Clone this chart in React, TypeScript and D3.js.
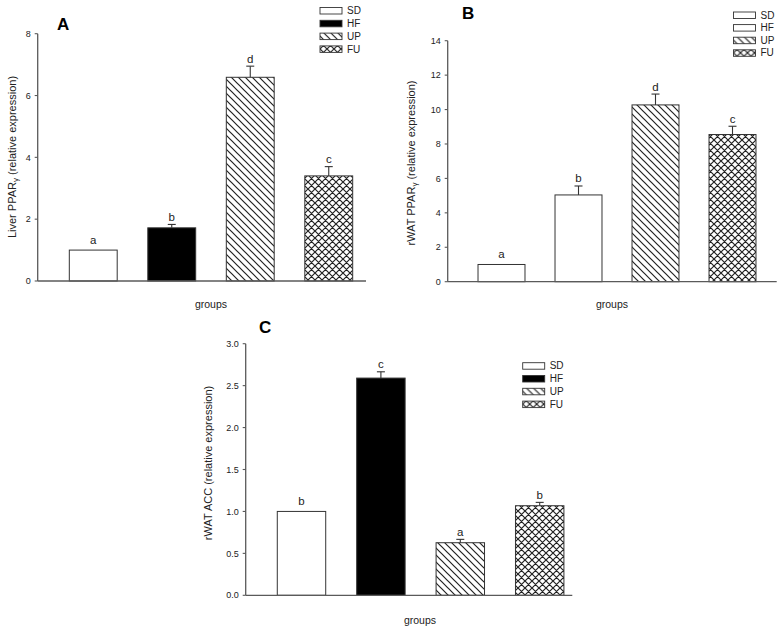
import * as d3 from "d3"

const groups = ["SD", "HF", "UP", "FU"]

const liverPPARg = [1.0, 1.72, 6.59, 3.4]
const liverPPARgErr = [0, 0.11, 0.36, 0.3]
const liverLetters = ["a", "b", "d", "c"]

const rwatPPARg = [1.0, 5.04, 10.27, 8.55]
const rwatPPARgErr = [0, 0.52, 0.63, 0.48]
const rwatPPARgLetters = ["a", "b", "d", "c"]

const rwatACC = [1.0, 2.59, 0.627, 1.068]
const rwatACCErr = [0, 0.075, 0.04, 0.04]
const rwatACCLetters = ["b", "c", "a", "b"]

const ticksA = [0, 2, 4, 6, 8]
const ticksB = [0, 2, 4, 6, 8, 10, 12, 14]
const ticksC = [0, 0.5, 1.0, 1.5, 2.0, 2.5, 3.0]

const fillsBlackHF = ["#fff", "#000", "url(#diag)", "url(#cross)"]
const fillsWhiteHF = ["#fff", "#fff", "url(#diag)", "url(#cross)"]

const FONT = "Arial, 'Liberation Sans', sans-serif"
const AXIS = "#5a5a5a"
const TEXT = "#222"

interface PanelProps {
  label: string
  labelPos: [number, number]
  values: number[]
  errors: number[]
  letters: string[]
  fills: string[]
  ticks: number[]
  tickFmt: (v: number) => string
  yDomain: [number, number]
  yRange: [number, number]
  axisX: number
  axisEnd: number
  bandRange: [number, number]
  yTitle: string
  yTitleSub?: string
  yTitleRest?: string
  yTitlePos: [number, number]
  groupsPos: [number, number]
  legendX: number
  legendY: number
  legendStep: number
}

function Panel(p: PanelProps) {
  const y = d3.scaleLinear().domain(p.yDomain).range(p.yRange)
  const x = d3.scaleBand<string>().domain(groups).range(p.bandRange).paddingInner(0.39).paddingOuter(0.195)
  const bw = x.bandwidth()
  const y0 = y(0)

  return (
    <g fontFamily={FONT}>
      <text x={p.labelPos[0]} y={p.labelPos[1]} fontSize={17} fontWeight="bold" fill="#000">
        {p.label}
      </text>

      {/* bars */}
      {groups.map((g, i) => (
        <rect
          key={"bar" + g}
          x={x(g)}
          y={y(p.values[i])}
          width={bw}
          height={y0 - y(p.values[i])}
          fill={p.fills[i]}
          stroke="#333"
          strokeWidth={1}
        />
      ))}

      {/* error bars */}
      {groups.map((g, i) => {
        if (!p.errors[i]) return null
        const cx = (x(g) || 0) + bw / 2
        const top = y(p.values[i] + p.errors[i])
        return (
          <g key={"err" + g} stroke="#333" strokeWidth={1.1}>
            <line x1={cx} x2={cx} y1={y(p.values[i])} y2={top} />
            <line x1={cx - 4} x2={cx + 4} y1={top} y2={top} />
          </g>
        )
      })}

      {/* significance letters */}
      {groups.map((g, i) => (
        <text
          key={"let" + g}
          x={(x(g) || 0) + bw / 2}
          y={y(p.values[i] + p.errors[i]) - (p.errors[i] ? 3.5 : 6)}
          textAnchor="middle"
          fontSize={11.5}
          fill={TEXT}
        >
          {p.letters[i]}
        </text>
      ))}

      {/* axes */}
      <line x1={p.axisX} x2={p.axisX} y1={y0} y2={y(p.yDomain[1])} stroke={AXIS} strokeWidth={1.3} />
      <line x1={p.axisX} x2={p.axisEnd} y1={y0} y2={y0} stroke={AXIS} strokeWidth={1.3} />
      {p.ticks.map((t) => (
        <g key={"tick" + t}>
          <line x1={p.axisX - 3} x2={p.axisX} y1={y(t)} y2={y(t)} stroke={AXIS} strokeWidth={1.1} />
          <text x={p.axisX - 7} y={y(t)} dy="0.35em" textAnchor="end" fontSize={9} fill={TEXT}>
            {p.tickFmt(t)}
          </text>
        </g>
      ))}

      <text
        transform={`translate(${p.yTitlePos[0]},${p.yTitlePos[1]}) rotate(-90)`}
        textAnchor="middle"
        fontSize={11}
        fill={TEXT}
      >
        {p.yTitle}
        {p.yTitleSub && (
          <tspan fontSize={8} dy={2}>
            {p.yTitleSub}
          </tspan>
        )}
        {p.yTitleRest && <tspan dy={p.yTitleSub ? -2 : 0}>{p.yTitleRest}</tspan>}
      </text>

      <text x={p.groupsPos[0]} y={p.groupsPos[1]} textAnchor="middle" fontSize={10.5} fill={TEXT}>
        groups
      </text>

      {/* legend */}
      {groups.map((g, i) => (
        <g key={"leg" + g} transform={`translate(${p.legendX},${p.legendY + i * p.legendStep})`}>
          <rect x={0} y={-3} width={22} height={6.5} fill={p.fills[i]} stroke="#333" strokeWidth={0.9} />
          <text x={27} y={0} dy="0.36em" fontSize={10} fill={TEXT}>
            {g}
          </text>
        </g>
      ))}
    </g>
  )
}

export default function App() {
  return (
    <svg
      width={782}
      height={629}
      style={{ position: "absolute", left: 0, top: 0, background: "#fff" }}
    >
      <defs>
        <pattern id="diag" patternUnits="userSpaceOnUse" width={7} height={7}>
          <rect width={7} height={7} fill="#fff" />
          <path d="M-1,-1 L8,8 M-1,6 L1,8 M6,-1 L8,1" stroke="#222" strokeWidth={1.2} />
        </pattern>
        <pattern id="cross" patternUnits="userSpaceOnUse" width={7} height={7}>
          <rect width={7} height={7} fill="#fff" />
          <path
            d="M-1,-1 L8,8 M-1,6 L1,8 M6,-1 L8,1 M-1,8 L8,-1 M-1,1 L1,-1 M6,8 L8,6"
            stroke="#222"
            strokeWidth={1.2}
          />
        </pattern>
      </defs>

      <Panel
        label="A"
        labelPos={[57, 30]}
        values={liverPPARg}
        errors={liverPPARgErr}
        letters={liverLetters}
        fills={fillsBlackHF}
        ticks={ticksA}
        tickFmt={(v) => String(v)}
        yDomain={[0, 8]}
        yRange={[281, 33.7]}
        axisX={37.7}
        axisEnd={366}
        bandRange={[54, 368]}
        yTitle="Liver PPAR"
        yTitleSub="γ"
        yTitleRest=" (relative expression)"
        yTitlePos={[16, 157]}
        groupsPos={[211, 308]}
        legendX={320}
        legendY={10.5}
        legendStep={12.8}
      />

      <Panel
        label="B"
        labelPos={[462, 19]}
        values={rwatPPARg}
        errors={rwatPPARgErr}
        letters={rwatPPARgLetters}
        fills={fillsWhiteHF}
        ticks={ticksB}
        tickFmt={(v) => String(v)}
        yDomain={[0, 14]}
        yRange={[281.7, 40.7]}
        axisX={447.7}
        axisEnd={776.7}
        bandRange={[463, 771]}
        yTitle="rWAT PPAR"
        yTitleSub="γ"
        yTitleRest=" (relative expression)"
        yTitlePos={[415, 163]}
        groupsPos={[612, 308]}
        legendX={733.5}
        legendY={15}
        legendStep={12.6}
      />

      <Panel
        label="C"
        labelPos={[259, 333]}
        values={rwatACC}
        errors={rwatACCErr}
        letters={rwatACCLetters}
        fills={fillsBlackHF}
        ticks={ticksC}
        tickFmt={(v) => v.toFixed(1)}
        yDomain={[0, 3]}
        yRange={[595.3, 343.7]}
        axisX={245.7}
        axisEnd={572.3}
        bandRange={[261.8, 579.4]}
        yTitle="rWAT ACC (relative expression)"
        yTitlePos={[212, 463]}
        groupsPos={[420, 624]}
        legendX={522.7}
        legendY={365.7}
        legendStep={12.8}
      />
    </svg>
  )
}
